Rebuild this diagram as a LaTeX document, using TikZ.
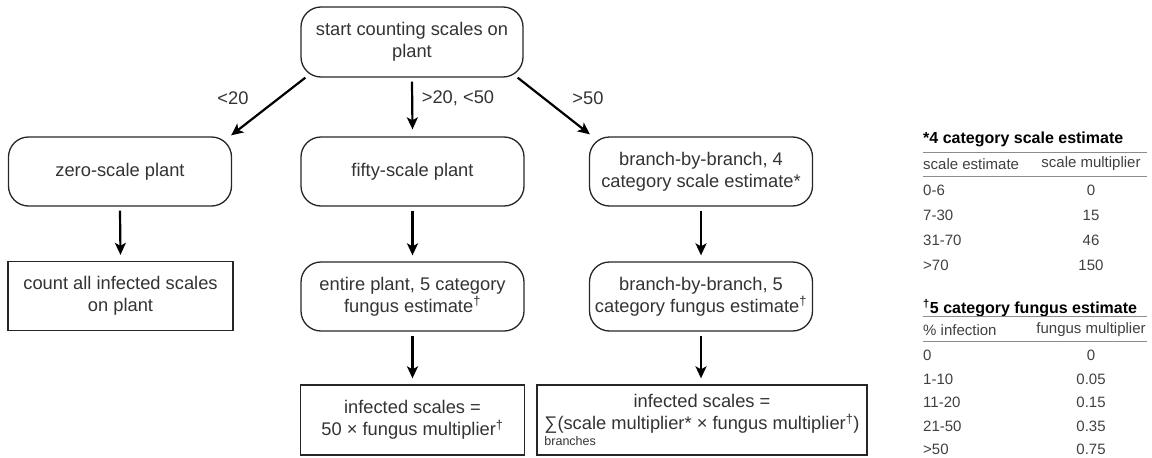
\documentclass[tikz,border=0pt]{standalone}
\usepackage{fontspec}
\setmainfont{Liberation Sans}
\usetikzlibrary{arrows.meta,calc}
\begin{document}
\begin{tikzpicture}[x=1pt,y=-1pt,
  txt/.style={font=\fontsize{18.3}{22}\selectfont, text=black!80, align=center},
  rbox/.style={txt, draw=black!85, line width=1.3pt, rounded corners=20pt,
    minimum width=223pt, minimum height=69pt, inner sep=0pt},
  sbox/.style={txt, draw=black!85, line width=1.3pt,
    minimum width=224pt, minimum height=69pt, inner sep=0pt},
  flow/.style={draw=black, line width=2.2pt,
    -{Stealth[length=12pt,width=11pt,inset=3pt]}},
  cond/.style={txt, inner sep=0pt},
  tb/.style={font=\fontsize{15}{16}\selectfont, text=black!75, inner sep=0pt},
  tbhead/.style={tb, font=\fontsize{16}{17}\selectfont\bfseries, text=black},
  rule/.style={draw=black!45, line width=0.8pt}]
\useasboundingbox (0,0) rectangle (1152,458);

% flow chart boxes
\node[rbox, minimum width=222pt, minimum height=70pt] (start) at (412,42)
  {start counting scales on\\plant};
\node[rbox] (zero) at (120,171.5) {zero-scale plant};
\node[rbox] (fifty) at (412.5,171.5) {fifty-scale plant};
\node[rbox] (branch) at (701,171.5)
  {branch-by-branch, 4\\category scale estimate*};
\node[sbox, minimum width=225pt] (count) at (120.5,296)
  {count all infected scales\\on plant};
\node[rbox] (entire) at (412.5,296.5)
  {entire plant, 5 category\\fungus estimate\textsuperscript{†}};
\node[rbox] (bfungus) at (701,296.5)
  {branch-by-branch, 5\\category fungus estimate\textsuperscript{†}};
\node[sbox, minimum height=70pt] (inffifty) at (412.5,420)
  {infected scales =\\50 × fungus multiplier\textsuperscript{†}};
\node[sbox, minimum width=330pt, minimum height=70pt] (infsum) at (702,420)
  {infected scales =\\\rlap{\raisebox{-16pt}{\fontsize{12.5}{13}\selectfont branches}}∑(scale multiplier* × fungus multiplier\textsuperscript{†})};

% branching on the first count
\draw[flow] ($(start.south west)+(5,0)$) -- ($(zero.north east)+(-1,-1)$);
\draw[flow] ($(start.south)+(0,4)$) -- ($(fifty.north)+(0,-7)$);
\draw[flow] ($(start.south east)+(-6,0)$) -- ($(branch.north west)+(1,-2)$);
\node[cond] (ltlow) at (233,98) {<20};
\node[cond] (ltmid) at (458,98) {>20, <50};
\node[cond] (lthigh) at (588,98) {>50};

% downward steps
\draw[flow] ($(zero.south)+(0,4)$) -- ($(count.north)+(0,-6)$);
\draw[flow] ($(fifty.south)+(0,4)$) -- ($(entire.north)+(0,-6)$);
\draw[flow] ($(branch.south)+(0,4)$) -- ($(bfungus.north)+(0,-6)$);
\draw[flow] ($(entire.south)+(0,4)$) -- ($(inffifty.north)+(0,-6)$);
\draw[flow] ($(bfungus.south)+(0,4)$) -- ($(bfungus.south |- infsum.north)+(0,-6)$);

% scale estimate table
\node[tbhead, anchor=west] (sctitle) at (923,139) {*4 category scale estimate};
\draw[rule] (923,152) -- (1147,152);
\node[tb, anchor=west] (schead) at (923,164) {scale estimate};
\node[tb] (scmult) at (1091,164) {scale multiplier};
\draw[rule] (923,176) -- (1147,176);
\foreach \a/\b/\y [count=\i] in {0-6/0/190, 7-30/15/215, 31-70/46/240, >70/150/265}{
  \node[tb, anchor=west] (sc\i l) at (923,\y) {\a};
  \node[tb] (sc\i r) at (1091,\y) {\b};
}

% fungus estimate table
\node[tbhead, anchor=west] (fgtitle) at (923,308) {\textsuperscript{†}5 category fungus estimate};
\draw[rule] (923,316) -- (1147,316);
\node[tb, anchor=west] (fghead) at (923,330) {\% infection};
\node[tb] (fgmult) at (1091,330) {fungus multiplier};
\draw[rule] (923,341) -- (1147,341);
\foreach \a/\b/\y [count=\i] in {0/0/355.5, 1-10/0.05/379, 11-20/0.15/402.5, 21-50/0.35/426, >50/0.75/449}{
  \node[tb, anchor=west] (fg\i l) at (923,\y) {\a};
  \node[tb] (fg\i r) at (1091,\y) {\b};
}
\end{tikzpicture}
\end{document}
